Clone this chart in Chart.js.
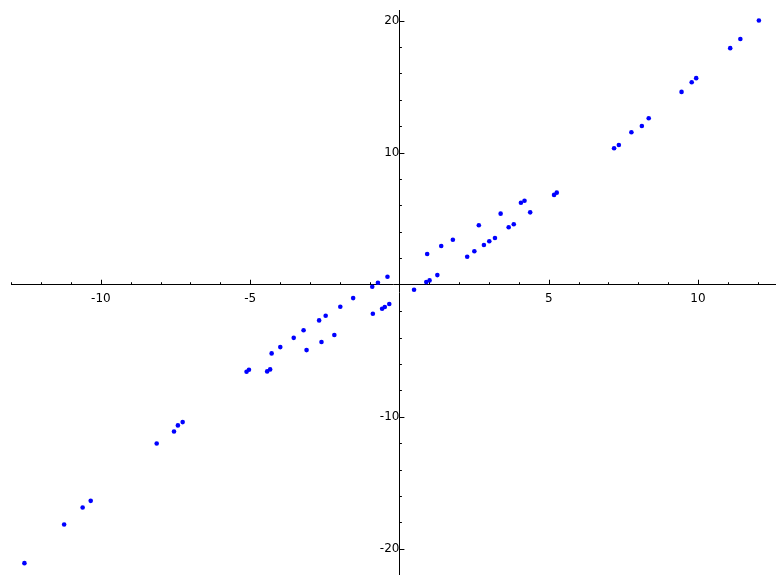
<!DOCTYPE html>
<html>
<head>
<meta charset="utf-8">
<title>Scatter</title>
<script src="https://cdn.jsdelivr.net/npm/chart.js@4/dist/chart.umd.min.js"></script>
<style>
  html, body { margin: 0; padding: 0; background: #fff; }
  canvas { display: block; }
</style>
</head>
<body>
<canvas id="plot" width="784" height="584"></canvas>
<script>
// ── Data ──
var X_VALUES = [
  -12.56, -11.23, -10.61, -10.34, -8.13, -7.55, -7.42, -7.26,
  -5.12, -5.04, -4.43, -4.33, -4.28, -3.99, -3.54, -3.21, -3.11, -2.69, -2.61,
  -2.47, -2.18, -1.98, -1.55, -0.91, -0.89, -0.72, -0.58, -0.49, -0.40, -0.34,
  0.49, 0.90, 0.93, 1.01, 1.27, 1.40, 1.79, 2.27, 2.51, 2.66, 2.83, 3.01,
  3.20, 3.39, 3.66, 3.83, 4.07, 4.19, 4.38, 5.18, 5.27,
  7.19, 7.35, 7.77, 8.12, 8.35, 9.45, 9.79, 9.94, 11.08, 11.42, 12.04
];
var Y_VALUES = [
  -21.08, -18.15, -16.86, -16.36, -12.02, -11.11, -10.65, -10.40,
  -6.59, -6.44, -6.56, -6.41, -5.20, -4.72, -4.02, -3.45, -4.95, -2.70, -4.34,
  -2.35, -3.81, -1.67, -1.01, -0.15, -2.20, 0.15, -1.82, -1.69, 0.61, -1.46,
  -0.38, 0.20, 2.33, 0.33, 0.73, 2.93, 3.41, 2.12, 2.53, 4.50, 3.01, 3.29,
  3.54, 5.38, 4.35, 4.58, 6.21, 6.36, 5.48, 6.80, 6.97,
  10.33, 10.58, 11.55, 12.02, 12.61, 14.60, 15.33, 15.64, 17.91, 18.61, 20.00
];
var X_TICKS = [-10, -5, 5, 10];
var Y_TICKS = [-20, -10, 10, 20];

var X_MIN = -13.01, X_MAX = 12.58;
var Y_MIN = -21.9, Y_MAX = 20.8;

var points = [];
for (var i = 0; i < X_VALUES.length; i++) {
  points.push({ x: X_VALUES[i], y: Y_VALUES[i] });
}

// ── Tick marks pointing into the upper / right side ──
var tickMarks = {
  id: 'tickMarks',
  afterDraw: function(chart) {
    var ctx = chart.ctx;
    var xs = chart.scales.x, ys = chart.scales.y;
    var x0 = xs.getPixelForValue(0), y0 = ys.getPixelForValue(0);
    ctx.save();
    ctx.strokeStyle = '#000';
    ctx.lineWidth = 1;
    ctx.beginPath();
    for (var v = Math.ceil(X_MIN); v <= X_MAX; v++) {
      if (v === 0) continue;
      var px = Math.round(xs.getPixelForValue(v)) + 0.5;
      var len = (v % 5 === 0) ? 5 : 2.5;
      ctx.moveTo(px, y0);
      ctx.lineTo(px, y0 - len);
    }
    for (var w = Math.ceil(Y_MIN / 2) * 2; w <= Y_MAX; w += 2) {
      if (w === 0) continue;
      var py = Math.round(ys.getPixelForValue(w)) + 0.5;
      var l2 = (w % 10 === 0) ? 5 : 2.5;
      ctx.moveTo(x0, py);
      ctx.lineTo(x0 + l2, py);
    }
    ctx.stroke();
    ctx.restore();
  }
};

var font = { family: 'DejaVu Sans', size: 12 };

new Chart(document.getElementById('plot'), {
  type: 'scatter',
  data: {
    datasets: [{
      data: points,
      backgroundColor: '#0000ff',
      borderColor: '#0000ff',
      borderWidth: 0,
      pointRadius: 2.3,
      pointHoverRadius: 2.3
    }]
  },
  options: {
    responsive: false,
    animation: false,
    devicePixelRatio: 1,
    layout: { padding: { left: 11, right: 9, top: 10, bottom: 10 } },
    plugins: { legend: { display: false }, tooltip: { enabled: false } },
    scales: {
      x: {
        type: 'linear',
        min: X_MIN,
        max: X_MAX,
        position: { y: 0 },
        afterFit: function(s) {
          s.height = 0;
          s.paddingLeft = 0; s.paddingRight = 0;
          s.paddingTop = 0; s.paddingBottom = 0;
        },
        afterBuildTicks: function(s) {
          s.ticks = X_TICKS.map(function(v) { return { value: v }; });
        },
        grid: { display: false, drawTicks: false },
        border: { display: true, color: '#000', width: 1 },
        ticks: { color: '#000', font: font, padding: 7, maxRotation: 0 }
      },
      y: {
        type: 'linear',
        min: Y_MIN,
        max: Y_MAX,
        position: { x: 0 },
        afterFit: function(s) {
          s.width = 0;
          s.paddingLeft = 0; s.paddingRight = 0;
          s.paddingTop = 0; s.paddingBottom = 0;
        },
        afterBuildTicks: function(s) {
          s.ticks = Y_TICKS.map(function(v) { return { value: v }; });
        },
        grid: { display: false, drawTicks: false },
        border: { display: true, color: '#000', width: 1 },
        ticks: { color: '#000', font: font, padding: 12 }
      }
    }
  },
  plugins: [tickMarks]
});
</script>
</body>
</html>
